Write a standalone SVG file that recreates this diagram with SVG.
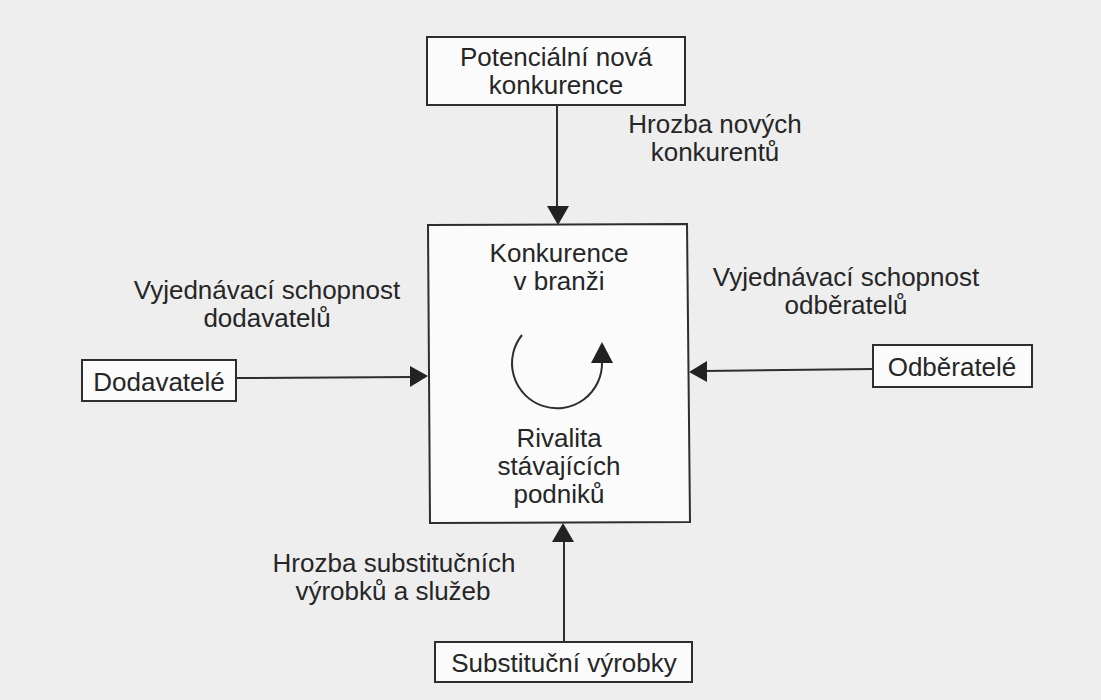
<svg xmlns="http://www.w3.org/2000/svg" width="1101" height="700" viewBox="0 0 1101 700">
<defs>
<style>
.bg{fill:#eeeeee}
.box{fill:#fbfbfb;stroke:#2e2e2e;stroke-width:2}
.t{font-family:"Liberation Sans",Arial,sans-serif;font-size:26px;fill:#262626;text-anchor:middle}
.ln{stroke:#2e2e2e;stroke-width:2;fill:none}
.ah{fill:#222222}
</style>
</defs>
<rect class="bg" x="0" y="0" width="1101" height="700"/>
<g id="node-potencialni">
<rect class="box" x="427" y="37" width="258" height="68"/>
<text class="t" x="556" y="66">Potenciální nová</text>
<text class="t" x="556" y="94">konkurence</text>
</g>
<g id="node-konkurence">
<path class="box" d="M428 225 L687 224 L690 522 L430 523 Z"/>
<text class="t" x="559" y="262">Konkurence</text>
<text class="t" x="559" y="290">v  branži</text>
<text class="t" x="559" y="447">Rivalita</text>
<text class="t" x="559" y="475">stávajících</text>
<text class="t" x="559" y="503">podniků</text>
<path class="ln" d="M522 335 A45 45 0 1 0 602 362"/>
<polygon class="ah" points="602,342 591,363 613,363"/>
</g>
<g id="node-dodavatele">
<rect class="box" x="82" y="360" width="154" height="41"/>
<text class="t" x="159" y="391">Dodavatelé</text>
</g>
<g id="node-odberatele">
<rect class="box" x="873" y="345" width="159" height="42"/>
<text class="t" x="952" y="376">Odběratelé</text>
</g>
<g id="node-substitucni">
<rect class="box" x="435" y="642" width="257" height="40"/>
<text class="t" x="564" y="672">Substituční výrobky</text>
</g>
<g id="connectors">
<line class="ln" x1="557" y1="105" x2="557" y2="210"/>
<polygon class="ah" points="558,225 547,206 569,206"/>
<line class="ln" x1="236" y1="378" x2="413" y2="377"/>
<polygon class="ah" points="428,376 410,366 410,387"/>
<line class="ln" x1="873" y1="369" x2="705" y2="371"/>
<polygon class="ah" points="689,372 707,361 707,382"/>
<line class="ln" x1="564" y1="642" x2="564" y2="538"/>
<polygon class="ah" points="563,523 552,542 574,542"/>
</g>
<g id="labels">
<text class="t" x="715" y="133">Hrozba nových</text>
<text class="t" x="715" y="161">konkurentů</text>
<text class="t" x="267" y="299">Vyjednávací schopnost</text>
<text class="t" x="267" y="327">dodavatelů</text>
<text class="t" x="846" y="286">Vyjednávací schopnost</text>
<text class="t" x="846" y="314">odběratelů</text>
<text class="t" x="394" y="572">Hrozba substitučních</text>
<text class="t" x="393" y="600">výrobků a služeb</text>
</g>
</svg>
